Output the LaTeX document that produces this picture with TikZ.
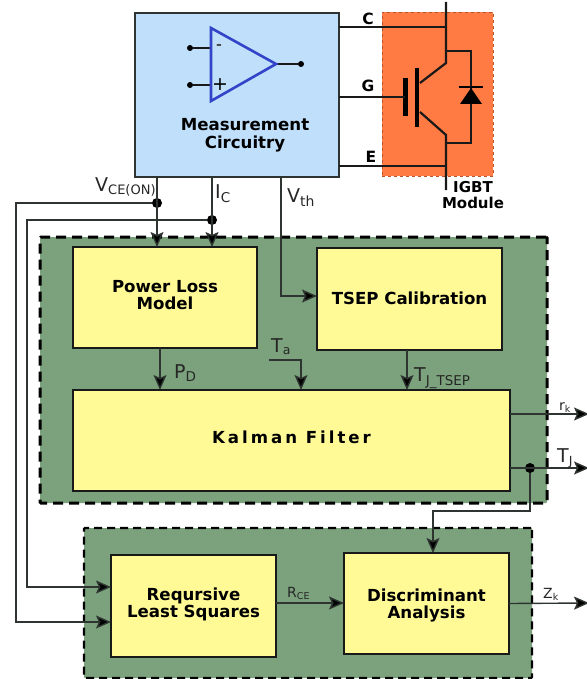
\documentclass[tikz,border=0pt]{standalone}
\usepackage{fontspec}
\setmainfont{DejaVu Sans}
\usetikzlibrary{arrows.meta,calc}
\definecolor{panelgreen}{HTML}{7BA27C}
\definecolor{boxyellow}{HTML}{FFFA96}
\definecolor{measblue}{HTML}{BFDFFB}
\definecolor{igbtorange}{HTML}{FF7B43}
\definecolor{opblue}{HTML}{3344C8}
\definecolor{wiregray}{HTML}{2E3430}
\tikzset{
  x=1pt,y=-1pt,
  panel/.style={draw=black,fill=panelgreen,dashed,inner sep=0pt,outer sep=0pt,rounded corners=1pt},
  blockbox/.style={draw=black!90,line width=2.2pt,fill=boxyellow,inner sep=0pt,outer sep=0pt},
  blocktext/.style={inner sep=0pt,align=center,font=\fontsize{16.6}{18}\selectfont\bfseries},
  sig/.style={draw=wiregray,line width=1.4pt},
  arrowsig/.style={sig,-{Stealth[length=15pt,width=13pt,inset=3pt,fill=black]}},
  lead/.style={draw=black!90,line width=2.2pt},
  dotnode/.style={circle,fill=black,inner sep=0pt,outer sep=0pt,minimum size=10pt},
  termlabel/.style={font=\fontsize{15.5}{15.5}\selectfont\bfseries,inner sep=0pt},
  siglabel/.style={font=\fontsize{19}{19}\selectfont,inner sep=0pt,text=black!85},
  smalllabel/.style={font=\fontsize{14}{14}\selectfont,inner sep=0pt,text=black!85},
}
\begin{document}
\begin{tikzpicture}
\useasboundingbox (0,0) rectangle (586,679);
% panels
\node[panel,line width=3pt,dash pattern=on 10pt off 6pt,minimum width=507pt,minimum height=266pt] (panelA) at (293.5,370) {};
\node[panel,line width=2.2pt,dash pattern=on 8pt off 5pt,minimum width=448pt,minimum height=150pt] (panelB) at (308,603) {};
% measurement and IGBT
\node[draw=wiregray,line width=2.2pt,fill=measblue,inner sep=0pt,outer sep=0pt,minimum width=204pt,minimum height=164pt] (meas) at (237,95) {};
\node[draw=igbtorange!70!black,dashed,line width=0.8pt,fill=igbtorange,inner sep=0pt,outer sep=0pt,minimum width=111pt,minimum height=164pt] (igbt) at (437.5,94) {};
\node[blocktext] (meastext) at (245,135) {Measurement\\Circuitry};
% blocks
\node[blockbox,minimum width=184pt,minimum height=101pt] (loss) at (165,297.5) {};
\node[blockbox,minimum width=185pt,minimum height=102pt] (tsep) at (409.5,299) {};
\node[blockbox,minimum width=437pt,minimum height=101pt] (kalman) at (291.5,440.5) {};
\node[blockbox,minimum width=165pt,minimum height=102pt] (rls) at (193.5,606) {};
\node[blockbox,minimum width=165pt,minimum height=101pt] (disc) at (426.5,603.5) {};
\node[blocktext] (lossT) at (165,295) {Power Loss\\[-1pt]Model};
\node[blocktext] (tsepT) at (409.5,298.5) {TSEP Calibration};
\node[blocktext] (kalmanT) at (291.5,437.5) {\addfontfeature{LetterSpace=18}Kalman Filter};
\node[blocktext] (rlsT) at (193.5,604.5) {Reqursive\\[-1pt]Least Squares};
\node[blocktext] (discT) at (426.5,605.5) {Discriminant\\[-1pt]Analysis};
% op amp
\coordinate (opA) at (211,28);
\coordinate (opB) at (211,101);
\coordinate (opC) at (276,64);
\node[dotnode,minimum size=6pt] (inM) at (190,48) {};
\node[dotnode,minimum size=6pt] (inP) at (190,85) {};
\node[dotnode,minimum size=6pt] (outO) at (301,64) {};
\draw[lead] (inM) -- (211,48);
\draw[lead] (inP) -- (211,85);
\draw[lead] (opC) -- (outO);
\draw[opblue,line width=2.6pt,line join=miter] (opA) -- (opB) -- (opC) -- cycle;
\node[font=\fontsize{14}{14}\selectfont\bfseries,inner sep=0pt,text=black!70] (minus) at (219,47) {-};
\node[font=\fontsize{19}{19}\selectfont,inner sep=0pt] (plus) at (220,85) {+};
% IGBT symbol
\coordinate (top) at (446,2);
\coordinate (cK) at (446,27);
\coordinate (cJ) at (446,51);
\coordinate (cD) at (446,63);
\coordinate (eD) at (446,135);
\coordinate (eJ) at (446,143);
\coordinate (eK) at (446,166);
\coordinate (bot) at (446,190);
\draw[lead] (top) -- (cD) -- (420,83);
\draw[lead] (420,112) -- (eD) -- (bot);
\draw[lead] (cJ) -- (471,51) -- (471,143) -- (eJ);
\draw[black,line width=4.5pt] (417,68) -- (417,127);
\draw[black,line width=5pt] (405,78) -- (405,116);
\fill[black] (471,88) -- (482,104) -- (460,104) -- cycle;
\draw[black,line width=1.6pt] (459,87) -- (483,87);
\draw[lead] (meas.east |- cK) -- (cK);
\draw[lead] (meas.east |- 0,97) -- (405,97);
\draw[lead] (meas.east |- eK) -- (eK);
\node[termlabel] (labC) at (368,19) {C};
\node[termlabel] (labG) at (368,86) {G};
\node[termlabel] (labE) at (371,157) {E};
\node[align=center,inner sep=0pt,font=\fontsize{15}{16}\selectfont\bfseries] (igbtlab) at (473,195) {IGBT\\Module};
% junctions
\node[dotnode] (jV) at (157,203) {};
\node[dotnode] (jI) at (212,220) {};
\node[dotnode] (jT) at (530,468) {};
% free ends
\coordinate (ta0) at (269,360);
\coordinate (rkEnd) at (589,414);
\coordinate (tjEnd) at (589,468);
\coordinate (zkEnd) at (589,603);
% connectors
\draw[arrowsig] (jV |- meas.south) -- (jV |- loss.north);
\draw[arrowsig] (jI |- meas.south) -- (jI |- loss.north);
\draw[arrowsig] (281,177) -- (281,296) -- (tsep.west |- 0,296);
\draw[arrowsig] (jV) -- (16,203) -- (16,622) -- (rls.west |- 0,622);
\draw[arrowsig] (jI) -- (27,220) -- (27,587) -- (rls.west |- 0,587);
\draw[arrowsig] (160,348) -- (160,390);
\draw[arrowsig] (ta0) -- (301,360) -- (301,390);
\draw[arrowsig] (407,350) -- (407,390);
\draw[arrowsig] (510,414) -- (rkEnd);
\draw[arrowsig] (510,468) -- (tjEnd);
\draw[arrowsig] (jT) -- (530,511) -- (433,511) -- (433,553);
\draw[arrowsig] (disc.east) -- (zkEnd);
\draw[arrowsig] (rls.east |- 0,603) -- (disc.west |- 0,603);
% labels
\node[siglabel,anchor=base west] (lV) at (95,191) {V\textsubscript{\fontsize{13}{13}\selectfont CE(ON)}};
\node[siglabel,anchor=base west] (lI) at (215,198) {I\textsubscript{\fontsize{13.5}{13.5}\selectfont C}};
\node[siglabel,anchor=base west] (lTh) at (287,202) {V\textsubscript{\fontsize{14}{14}\selectfont th}};
\node[siglabel,anchor=base west] (lP) at (174,378) {P\textsubscript{\fontsize{13.5}{13.5}\selectfont D}};
\node[siglabel,anchor=base west] (lTa) at (271,352) {T\textsubscript{\fontsize{12.5}{12.5}\selectfont a}};
\node[siglabel,anchor=base west] (lTs) at (414,381) {T\textsubscript{\fontsize{13.5}{13.5}\selectfont J\_TSEP}};
\node[smalllabel,anchor=base west] (lr) at (559,410) {r\textsubscript{\fontsize{9.5}{9.5}\selectfont k}};
\node[siglabel,anchor=base west] (lTj) at (557,462) {T\textsubscript{\fontsize{12.5}{12.5}\selectfont J}};
\node[smalllabel,anchor=base west] (lz) at (543,598) {Z\textsubscript{\fontsize{9.5}{9.5}\selectfont k}};
\node[smalllabel,anchor=base west] (lR) at (287,597) {R\textsubscript{\fontsize{9.5}{9.5}\selectfont CE}};
\end{tikzpicture}
\end{document}
